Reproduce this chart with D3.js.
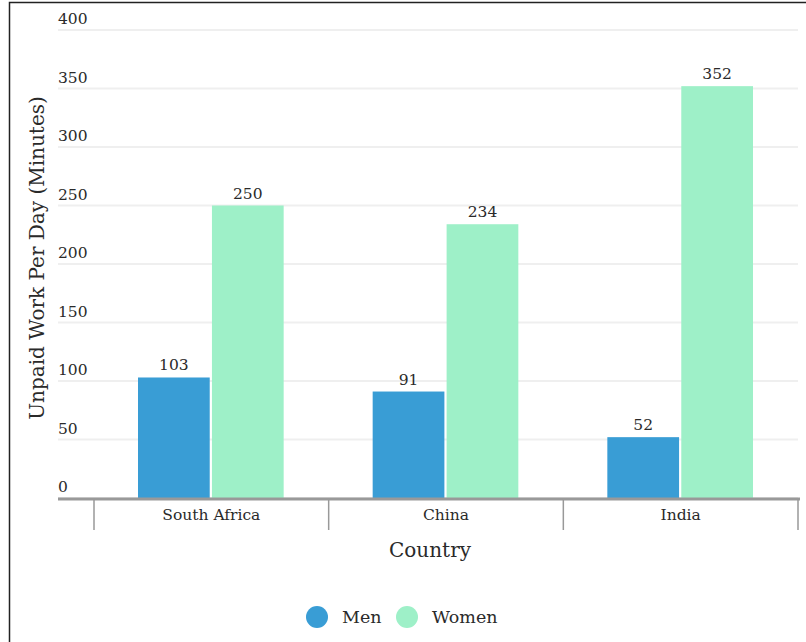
<!DOCTYPE html>
<html>
<head>
<meta charset="utf-8">
<script src="https://cdn.jsdelivr.net/npm/d3@7"></script>
<style>
  body { margin: 0; background: #fff; }
  svg text { font-family: "DejaVu Serif", serif; fill: #2a2a2a; }
</style>
</head>
<body>
<svg id="chart"></svg>
<script>
// data
const countries = ["South Africa", "China", "India"];
const groups = ["Men", "Women"];
const menValues = [103, 91, 52];
const womenValues = [250, 234, 352];
const yTicks = [0, 50, 100, 150, 200, 250, 300, 350, 400];

const colors = { Men: "#399dd5", Women: "#9ef0c8" };

const width = 806, height = 642;
const svg = d3.select("#chart")
  .attr("width", width)
  .attr("height", height);

// outer frame
svg.append("rect")
  .attr("x", 9.5).attr("y", 2.5)
  .attr("width", 900).attr("height", 800)
  .attr("fill", "none")
  .attr("stroke", "#222")
  .attr("stroke-width", 1.5);

const plotLeft = 58, plotRight = 800;
const x = d3.scaleBand()
  .domain(countries)
  .range([94, 798]);

const xInner = d3.scaleBand()
  .domain(groups)
  .range([44, x.bandwidth() - 45])
  .paddingInner(0.03);

const y = d3.scaleLinear()
  .domain([0, 400])
  .range([498, 30]);

// gridlines + y labels
const grid = svg.append("g");
grid.selectAll("line")
  .data(yTicks)
  .join("line")
  .attr("x1", plotLeft).attr("x2", 798)
  .attr("y1", d => y(d)).attr("y2", d => y(d))
  .attr("stroke", "#efefef")
  .attr("stroke-width", 2);

grid.selectAll("text")
  .data(yTicks)
  .join("text")
  .attr("x", plotLeft)
  .attr("y", d => y(d) - 6)
  .attr("font-size", 15.5)
  .text(d => d);

// bars
const data = countries.map((c, i) => ({ country: c, Men: menValues[i], Women: womenValues[i] }));

const cg = svg.append("g").selectAll("g")
  .data(data)
  .join("g")
  .attr("transform", d => `translate(${x(d.country)},0)`);

cg.selectAll("rect")
  .data(d => groups.map(k => ({ key: k, value: d[k] })))
  .join("rect")
  .attr("x", d => xInner(d.key))
  .attr("width", xInner.bandwidth())
  .attr("y", d => y(d.value))
  .attr("height", d => y(0) - y(d.value))
  .attr("fill", d => colors[d.key]);

cg.selectAll("text")
  .data(d => groups.map(k => ({ key: k, value: d[k] })))
  .join("text")
  .attr("x", d => xInner(d.key) + xInner.bandwidth() / 2)
  .attr("y", d => y(d.value) - 7)
  .attr("text-anchor", "middle")
  .attr("font-size", 15.5)
  .text(d => d.value);

// x axis
const xAxis = svg.append("g");
xAxis.append("line")
  .attr("x1", plotLeft).attr("x2", plotRight)
  .attr("y1", 499).attr("y2", 499)
  .attr("stroke", "#999")
  .attr("stroke-width", 3);

const bounds = countries.map(c => x(c)).concat([x.range()[1]]);
xAxis.selectAll(".tick")
  .data(bounds)
  .join("line")
  .attr("class", "tick")
  .attr("x1", d => d).attr("x2", d => d)
  .attr("y1", 499).attr("y2", 530)
  .attr("stroke", "#999")
  .attr("stroke-width", 1.5);

xAxis.selectAll("text")
  .data(countries)
  .join("text")
  .attr("x", d => x(d) + x.bandwidth() / 2)
  .attr("y", 520)
  .attr("text-anchor", "middle")
  .attr("font-size", 15.5)
  .text(d => d);

// axis titles
svg.append("text")
  .attr("x", 430).attr("y", 557)
  .attr("text-anchor", "middle")
  .attr("font-size", 20)
  .text("Country");

svg.append("text")
  .attr("transform", "translate(44,258) rotate(-90)")
  .attr("text-anchor", "middle")
  .attr("font-size", 20)
  .text("Unpaid Work Per Day (Minutes)");

// legend
const legend = svg.append("g");
const legX = [317, 407];
legend.selectAll("circle")
  .data(groups)
  .join("circle")
  .attr("cx", (d, i) => legX[i])
  .attr("cy", 617)
  .attr("r", 11)
  .attr("fill", d => colors[d]);

legend.selectAll("text")
  .data(groups)
  .join("text")
  .attr("x", (d, i) => legX[i] + 25)
  .attr("y", 623)
  .attr("font-size", 17.5)
  .text(d => d);
</script>
</body>
</html>
